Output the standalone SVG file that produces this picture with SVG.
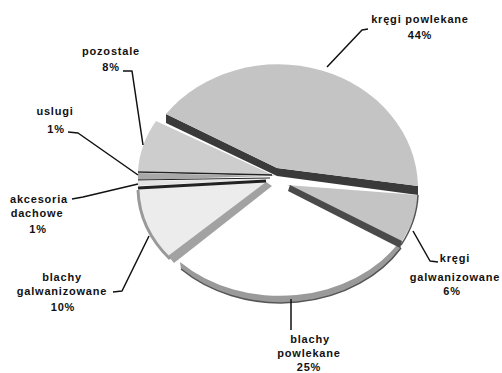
<svg xmlns="http://www.w3.org/2000/svg" width="502" height="373" viewBox="0 0 502 373">
<style>
text{font-family:"Liberation Sans",Arial,sans-serif;font-size:11px;font-weight:bold;fill:#111;text-anchor:middle;letter-spacing:0.8px}
.lead{fill:none;stroke:#111;stroke-width:1.5;stroke-linejoin:round}
.dark{fill:#3a3a3a}
.grayband{fill:#a2a2a2}
.sep{stroke:#222;fill:none}
</style>
<rect width="502" height="373" fill="#fff"/>
<g id="slice-pozostale">
<path d="M275,176 L156,121 A140 113 0 0 0 138,171 Z" fill="#cdcdcd"/>
<line class="sep" x1="138" y1="172" x2="272" y2="175" stroke-width="1.5"/>
</g>
<g id="slice-uslugi">
<path d="M272,176 L138,173 L138,180 Z" fill="#a8a8a8"/>
<line class="sep" x1="138" y1="180" x2="270" y2="178" stroke-width="1.2"/>
</g>
<g id="slice-akcesoria">
<path d="M270,179 L138,181 L138,186 Z" fill="#e4e4e4"/>
</g>
<g id="slice-blachy-galwanizowane">
<path d="M268,182 L138,189 A140 113 0 0 0 170,257 Z" fill="#ececec"/>
<path d="M266,182 L168,256 L174,263 L272,186 Z" class="grayband"/>
<path d="M138,190 A140 113 0 0 0 170,259" fill="none" stroke="#999" stroke-width="3"/>
<line class="sep" x1="138" y1="188" x2="266" y2="181" stroke-width="3"/>
</g>
<g id="slice-kregi-powlekane">
<path d="M166,114 L277,168 L418,186 L418,195 L277,176 L166,123 Z" class="dark"/>
<path d="M277,168 L166,114 A140 124 0 0 1 418,186 Z" fill="#c4c4c4"/>
</g>
<g id="slice-blachy-powlekane">
<path d="M283,190 L400,241 A140 113 0 0 1 180,262 Z" fill="#fff"/>
<path d="M180,262 A140 113 0 0 0 400,241 L401,248 A140 113 0 0 1 181,269 Z" fill="#9a9a9a"/>
<path d="M401,248 A140 113 0 0 1 181,269" fill="none" stroke="#555" stroke-width="1.5"/>
</g>
<g id="slice-kregi-galwanizowane">
<path d="M287,185 L418,195 A140 113 0 0 1 400,244 Z" fill="#c4c4c4"/>
<path d="M290,185 L402,241 L400,248 L288,191 Z" fill="#4a4a4a"/>
<path d="M418,195 A140 113 0 0 1 401,245" fill="none" stroke="#555" stroke-width="1.5"/>
</g>
<g id="connectors">
<polyline class="lead" points="327,67 362,30 368,29"/>
<polyline class="lead" points="123,71 132,71 143,145"/>
<polyline class="lead" points="68,132 78,133 138,175"/>
<polyline class="lead" points="72,199 83,197 138,184"/>
<polyline class="lead" points="113,292 122,291 149,236"/>
<polyline class="lead" points="291,299 291,330"/>
<polyline class="lead" points="413,231 430,261 438,262"/>
</g>
<g id="label-kregi-powlekane"><text x="420" y="23">kręgi powlekane</text><text x="420" y="39">44%</text></g>
<g id="label-pozostale"><text x="111" y="55">pozostale</text><text x="111" y="71">8%</text></g>
<g id="label-uslugi"><text x="55" y="115">uslugi</text><text x="56" y="133">1%</text></g>
<g id="label-akcesoria"><text x="39" y="203">akcesoria</text><text x="37" y="217">dachowe</text><text x="38" y="233">1%</text></g>
<g id="label-blachy-galwanizowane"><text x="62" y="281">blachy</text><text x="62" y="295">galwanizowane</text><text x="63" y="311">10%</text></g>
<g id="label-blachy-powlekane"><text x="310" y="343">blachy</text><text x="309" y="357">powlekane</text><text x="309" y="371">25%</text></g>
<g id="label-kregi-galwanizowane"><text x="455" y="262">kręgi</text><text x="455" y="281">galwanizowane</text><text x="452" y="295">6%</text></g>
</svg>
